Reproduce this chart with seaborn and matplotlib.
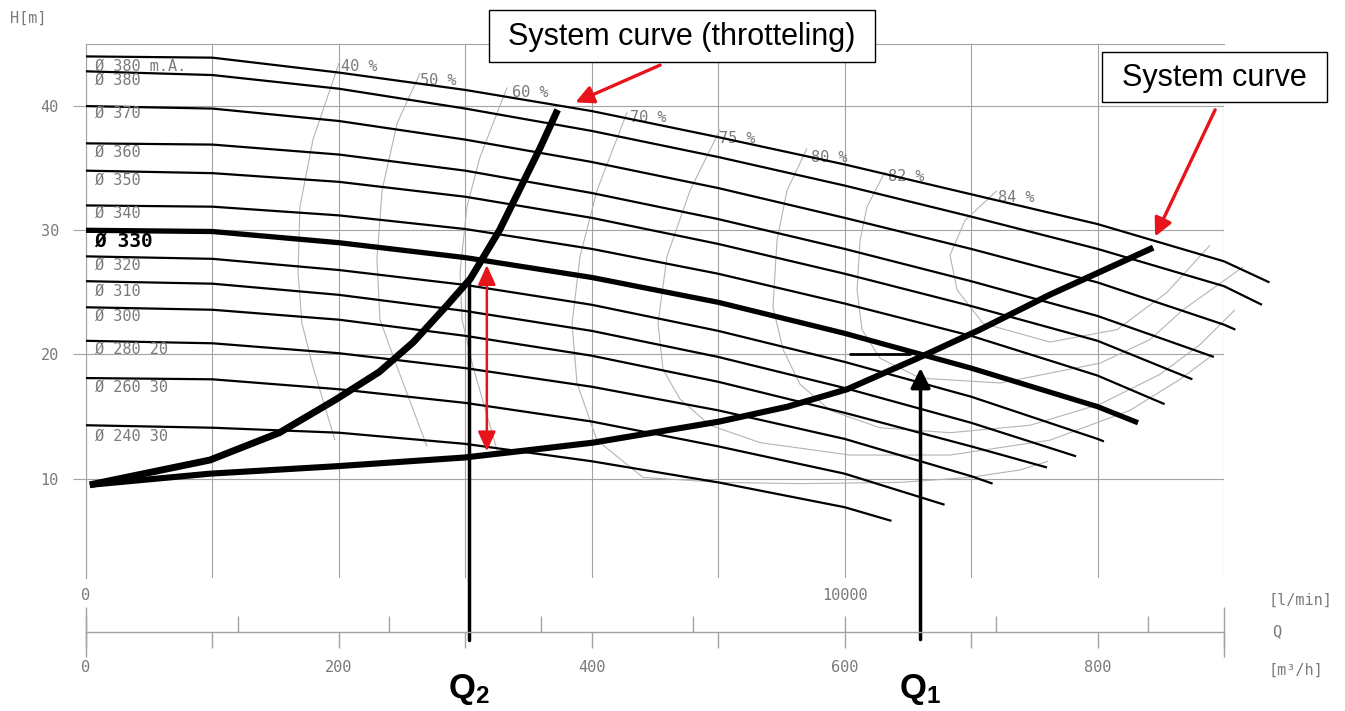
import numpy as np
import pandas as pd
import matplotlib
matplotlib.use("Agg")
import matplotlib.pyplot as plt
from matplotlib.patches import Rectangle
import seaborn as sns

# ---------------- data ----------------
# impeller curves: flow Q [m3/h], head H [m]
q_380ma = [0, 100, 200, 300, 400, 500, 600, 700, 800, 900, 936]
h_380ma = [44.0, 43.9, 42.7, 41.3, 39.6, 37.5, 35.3, 32.9, 30.5, 27.5, 25.8]
q_380 = [0, 100, 200, 300, 400, 500, 600, 700, 800, 900, 930]
h_380 = [42.8, 42.5, 41.4, 39.8, 38.0, 35.9, 33.6, 31.1, 28.5, 25.5, 24.0]
q_370 = [0, 100, 200, 300, 400, 500, 600, 700, 800, 900, 909]
h_370 = [40.0, 39.8, 38.8, 37.3, 35.5, 33.4, 31.0, 28.5, 25.8, 22.4, 22.0]
q_360 = [0, 100, 200, 300, 400, 500, 600, 700, 800, 892]
h_360 = [37.0, 36.9, 36.1, 34.8, 33.0, 30.9, 28.5, 25.9, 23.1, 19.8]
q_350 = [0, 100, 200, 300, 400, 500, 600, 700, 800, 875]
h_350 = [34.8, 34.6, 33.9, 32.7, 31.0, 28.9, 26.5, 23.9, 21.1, 18.0]
q_340 = [0, 100, 200, 300, 400, 500, 600, 700, 800, 853]
h_340 = [32.0, 31.9, 31.2, 30.1, 28.5, 26.5, 24.1, 21.5, 18.3, 16.0]
q_330 = [0, 100, 200, 300, 400, 500, 600, 700, 800, 832]
h_330 = [30.0, 29.9, 29.0, 27.8, 26.2, 24.2, 21.7, 18.9, 15.8, 14.5]
q_320 = [0, 100, 200, 300, 400, 500, 600, 700, 800, 805]
h_320 = [27.9, 27.7, 26.8, 25.6, 24.0, 21.9, 19.4, 16.6, 13.2, 13.0]
q_310 = [0, 100, 200, 300, 400, 500, 600, 700, 783]
h_310 = [25.9, 25.7, 24.8, 23.5, 21.9, 19.8, 17.3, 14.5, 11.8]
q_300 = [0, 100, 200, 300, 400, 500, 600, 700, 760]
h_300 = [23.8, 23.6, 22.8, 21.5, 19.9, 17.8, 15.3, 12.6, 10.9]
q_280 = [0, 100, 200, 300, 400, 500, 600, 700, 717]
h_280 = [21.1, 20.9, 20.1, 18.9, 17.4, 15.5, 13.2, 10.2, 9.6]
q_260 = [0, 100, 200, 300, 400, 500, 600, 679]
h_260 = [18.1, 18.0, 17.2, 16.1, 14.6, 12.6, 10.4, 7.9]
q_240 = [0, 100, 200, 300, 400, 500, 600, 637]
h_240 = [14.3, 14.1, 13.7, 12.8, 11.4, 9.7, 7.7, 6.6]

diameter_labels = ["Ø 380 m.A.", "Ø 380", "Ø 370", "Ø 360", "Ø 350", "Ø 340", "Ø 330",
                   "Ø 320", "Ø 310", "Ø 300", "Ø 280 20", "Ø 260 30", "Ø 240 30"]

# efficiency contours
eff_labels = ["40 %", "50 %", "60 %", "70 %", "75 %", "80 %", "82 %", "84 %"]
eff40_q = [200.9, 179.5, 169.2, 167.7, 170.8, 179.5, 196.9]
eff40_h = [43.7, 37.3, 31.9, 26.6, 22.5, 19.0, 13.1]
eff50_q = [264.2, 246.0, 234.1, 230.1, 232.5, 246.0, 269.7]
eff50_h = [42.65, 38.6, 33.2, 27.6, 22.8, 19.0, 12.6]
eff60_q = [333.0, 311.6, 301.3, 295.8, 297.4, 306.1, 325.1]
eff60_h = [41.5, 35.9, 31.9, 26.6, 22.8, 19.0, 12.3]
eff70_q = [427.9, 404.1, 390.7, 384.4, 388.3, 404.1, 440.5, 501.4, 564.7, 643.8, 699.1, 738.7, 760.8]
eff70_h = [39.5, 33.2, 27.9, 22.5, 17.7, 13.1, 10.1, 9.7, 9.6, 9.7, 10.1, 10.7, 11.4]
eff75_q = [501.4, 477.7, 459.5, 452.4, 456.3, 469.8, 493.5, 533.1, 604.2, 683.3, 762.4, 825.7, 865.2, 889.0]
eff75_h = [38.1, 33.2, 27.9, 22.5, 18.8, 16.4, 14.3, 12.9, 11.9, 11.9, 13.1, 15.5, 18.0, 19.8]
eff80_q = [570.2, 554.4, 546.5, 543.3, 551.3, 564.7, 588.4, 627.9, 683.3, 746.6, 802.0, 849.4, 881.1, 908.7]
eff80_h = [36.6, 33.2, 29.2, 23.8, 20.4, 17.6, 15.5, 14.1, 13.7, 14.3, 16.0, 18.4, 20.8, 23.6]
eff82_q = [631.9, 617.7, 612.2, 609.8, 613.7, 627.9, 659.6, 722.9, 802.0, 841.5, 867.6, 915.1]
eff82_h = [34.7, 31.9, 29.2, 25.2, 22.0, 19.7, 18.1, 17.7, 19.3, 21.2, 23.6, 27.05]
eff84_q = [720.5, 695.2, 683.3, 688.9, 709.4, 762.4, 815.4, 854.9, 889.0]
eff84_h = [33.2, 30.8, 28.0, 25.2, 22.5, 21.0, 22.0, 25.0, 28.8]

# system curves
thr_q = [3, 98, 153, 198, 232, 259, 285, 304, 327, 343, 359, 373]
thr_h = [9.5, 11.5, 13.7, 16.4, 18.6, 21.0, 23.9, 26.1, 30.0, 33.3, 36.6, 39.7]
sys_q = [3, 98, 198, 299, 359, 401, 501, 555, 602, 660, 707, 762, 844]
sys_h = [9.5, 10.4, 11.0, 11.7, 12.4, 12.9, 14.6, 15.8, 17.2, 19.8, 22.0, 24.8, 28.6]

# operating points
q1, h1 = 660, 19.9
q2, h2 = 303, 26.2
dh_q, dh_top, dh_bottom = 317, 27.2, 12.2

# axis ticks
h_ticks = [10, 20, 30, 40]
q_m3h_ticks = list(range(0, 901, 100))
q_m3h_labels = ["0", "", "200", "", "400", "", "600", "", "800", ""]
q_lmin_ticks = list(range(0, 14001, 2000))
q_lmin_labels = ["0", "", "", "", "", "10000", "", ""]

# ---------------- styling ----------------
sns.set_theme(style="white")
plt.rcParams["font.family"] = ["DejaVu Sans"]
plt.rcParams["mathtext.fontset"] = "custom"
plt.rcParams["mathtext.bf"] = "Liberation Sans:bold"
plt.rcParams["mathtext.rm"] = "Liberation Sans"

GRID = "#a3a3a3"
LABEL = "#7a7a7a"
EFF = "#b4b4b4"
RED = "#e8141b"
MONO = "DejaVu Sans Mono"

W, H = 1345, 711
fig = plt.figure(figsize=(W / 100, H / 100), dpi=100)
fig.patch.set_facecolor("white")
L, R = 86 / W, 1224 / W
B, T = (H - 578) / H, (H - 44) / H
ax = fig.add_axes([L, B, R - L, T - B])
ax.set_xlim(0, 900)
ax.set_ylim(2, 45)

# efficiency contours
eff_sets = [(eff40_q, eff40_h), (eff50_q, eff50_h), (eff60_q, eff60_h), (eff70_q, eff70_h),
            (eff75_q, eff75_h), (eff80_q, eff80_h), (eff82_q, eff82_h), (eff84_q, eff84_h)]
eff_rows = []
for lab, (qq, hh) in zip(eff_labels, eff_sets):
    for i, (a, b) in enumerate(zip(qq, hh)):
        eff_rows.append({"eff": lab, "i": i, "Q": a, "H": b})
eff_df = pd.DataFrame(eff_rows)
sns.lineplot(data=eff_df, x="Q", y="H", units="eff", estimator=None, sort=False,
             color=EFF, lw=0.8, ax=ax, legend=False, zorder=2)
eff_label_pos = [(202, 43.2), (264, 42.1), (337, 41.1), (430, 39.1),
                 (501, 37.4), (573, 35.9), (634, 34.3), (721, 32.6)]
for lab, (x, y) in zip(eff_labels, eff_label_pos):
    ax.text(x, y, lab, fontsize=11, color=LABEL, family=MONO, ha="left", va="center", zorder=3)

# impeller curves
curve_sets = [(q_380ma, h_380ma), (q_380, h_380), (q_370, h_370), (q_360, h_360),
              (q_350, h_350), (q_340, h_340), (q_330, h_330), (q_320, h_320),
              (q_310, h_310), (q_300, h_300), (q_280, h_280), (q_260, h_260), (q_240, h_240)]
rows = []
for lab, (qq, hh) in zip(diameter_labels, curve_sets):
    for i, (a, b) in enumerate(zip(qq, hh)):
        rows.append({"curve": lab, "i": i, "Q": a, "H": b})
df = pd.DataFrame(rows)
thin = df[df["curve"] != "Ø 330"]
bold = df[df["curve"] == "Ø 330"]
sns.lineplot(data=thin, x="Q", y="H", units="curve", estimator=None, sort=False,
             color="black", lw=1.6, ax=ax, legend=False, zorder=4)
sns.lineplot(data=bold, x="Q", y="H", estimator=None, sort=False,
             color="black", lw=3.8, ax=ax, legend=False, zorder=5)

label_h = [43.2, 42.1, 39.4, 36.3, 34.0, 31.4, 29.1, 27.2, 25.1, 23.1, 20.4, 17.4, 13.4]
for lab, y in zip(diameter_labels, label_h):
    if lab == "Ø 330":
        ax.text(6, y, lab, fontsize=14, color="black", family=MONO, weight="bold",
                ha="left", va="center", zorder=6)
    else:
        ax.text(7, y, lab, fontsize=11, color=LABEL, family=MONO, ha="left", va="center", zorder=6)

# system curves
sns.lineplot(x=thr_q, y=thr_h, sort=False, color="black", lw=5.0, ax=ax, zorder=7)
sns.lineplot(x=sys_q, y=sys_h, sort=False, color="black", lw=4.4, ax=ax, zorder=7)

for ln in ax.lines:
    ln.set_clip_on(False)
    ln.set_solid_capstyle("butt")

# axes cosmetics (after seaborn, which sets axis labels)
ax.set_xlim(0, 900)
ax.set_ylim(2, 45)
ax.set_xlabel("")
ax.set_ylabel("")
ax.set_xticks(q_m3h_ticks)
ax.set_yticks(h_ticks)
ax.set_yticklabels([str(v) for v in h_ticks])
ax.grid(True, color=GRID, lw=0.8)
ax.set_axisbelow(True)
ax.tick_params(axis="x", length=0, labelbottom=False, bottom=False)
ax.tick_params(axis="y", left=True, length=9.5, width=0.8, color=GRID, pad=10,
               labelsize=11, labelcolor=LABEL)
for lab in ax.get_yticklabels():
    lab.set_fontfamily(MONO)
ax.spines["bottom"].set_visible(False)
ax.spines["right"].set_visible(False)
for s in ["top", "left"]:
    ax.spines[s].set_color(GRID)
    ax.spines[s].set_linewidth(0.8)

# operating point markers
q_bottom = -2.96
ax.plot([q2, q2], [q_bottom, h2], color="black", lw=2.5, clip_on=False, zorder=8)
ax.annotate("", xy=(q1, h1 - 1.0), xytext=(q1, q_bottom),
            arrowprops=dict(arrowstyle="-|>,head_length=1.0,head_width=0.5", color="black",
                            lw=2.5, shrinkA=0, shrinkB=0), annotation_clip=False, zorder=8)
ax.plot([604, 652], [h1 + 0.1, h1 + 0.1], color="black", lw=2.0, clip_on=False, zorder=8)
ax.annotate("", xy=(dh_q, dh_top), xytext=(dh_q, dh_bottom),
            arrowprops=dict(arrowstyle="<|-|>,head_length=1.0,head_width=0.45", color=RED,
                            lw=1.8, shrinkA=0, shrinkB=0), annotation_clip=False, zorder=9)

# callouts
ax.add_patch(Rectangle((318.9, 43.54), 305.1, 4.18, fc="white", ec="black", lw=1.0,
                       clip_on=False, zorder=10))
ax.text(471, 45.6, "System curve (throtteling)", fontsize=22, family="Liberation Sans",
        color="black", ha="center", va="center", zorder=11, clip_on=False)
ax.add_patch(Rectangle((803.5, 40.32), 178.0, 4.02, fc="white", ec="black", lw=1.0,
                       clip_on=False, zorder=10))
ax.text(892.5, 42.3, "System curve", fontsize=22, family="Liberation Sans",
        color="black", ha="center", va="center", zorder=11, clip_on=False)
ax.annotate("", xy=(387, 40.3), xytext=(454, 43.3),
            arrowprops=dict(arrowstyle="-|>,head_length=0.9,head_width=0.45", color=RED,
                            lw=2.4, shrinkA=0, shrinkB=0), annotation_clip=False, zorder=9)
ax.annotate("", xy=(845.5, 29.5), xytext=(893, 39.7),
            arrowprops=dict(arrowstyle="-|>,head_length=0.9,head_width=0.45", color=RED,
                            lw=2.4, shrinkA=0, shrinkB=0), annotation_clip=False, zorder=9)

ax.text(q2, -7.0, r"$\mathbf{Q_2}$", fontsize=25, color="black", ha="center", va="center",
        clip_on=False)
ax.text(q1, -7.0, r"$\mathbf{Q_1}$", fontsize=25, color="black", ha="center", va="center",
        clip_on=False)

# flow axis (m3/h below, l/min above)
fax = fig.add_axes([L, (H - 632) / H, R - L, 0.0001])
fax.patch.set_visible(False)
fax.set_xlim(0, 900)
fax.set_ylim(0, 1)
fax.set_yticks([])
for s in ["top", "left", "right"]:
    fax.spines[s].set_visible(False)
fax.spines["bottom"].set_color(GRID)
fax.spines["bottom"].set_linewidth(1.0)
fax.set_xticks(q_m3h_ticks)
fax.set_xticklabels(q_m3h_labels)
fax.set_xticks([0, 900], minor=True)
fax.xaxis.remove_overlapping_locs = False
fax.tick_params(axis="x", which="major", bottom=True, direction="out", length=11.5,
                width=1.0, color=GRID, pad=9, labelsize=11, labelcolor=LABEL)
fax.tick_params(axis="x", which="minor", bottom=True, direction="out", length=18,
                width=1.0, color=GRID)
for lab in fax.get_xticklabels():
    lab.set_fontfamily(MONO)

sec = fax.secondary_xaxis("top", functions=(lambda q: np.asarray(q) * 50.0 / 3.0,
                                             lambda l: np.asarray(l) * 3.0 / 50.0))
sec.set_xticks(q_lmin_ticks)
sec.set_xticklabels(q_lmin_labels)
sec.set_xticks([0, 15000], minor=True)
sec.xaxis.remove_overlapping_locs = False
sec.tick_params(axis="x", which="major", top=True, direction="out", length=11.5, width=1.0,
                color=GRID, pad=9, labelsize=11, labelcolor=LABEL)
sec.tick_params(axis="x", which="minor", top=True, direction="out", length=18, width=1.0,
                color=GRID)
for lab in sec.get_xticklabels():
    lab.set_fontfamily(MONO)
for s in sec.spines.values():
    s.set_visible(False)

fig.text(1268 / W, (H - 600) / H, "[l/min]", fontsize=11, color=LABEL, family=MONO,
         ha="left", va="center")
fig.text(1272 / W, (H - 632) / H, "Q", fontsize=11, color=LABEL, family=MONO,
         ha="left", va="center")
fig.text(1268 / W, (H - 670) / H, "[m³/h]", fontsize=11, color=LABEL, family=MONO,
         ha="left", va="center")
fig.text(10 / W, (H - 18) / H, "H[m]", fontsize=11, color=LABEL, family=MONO,
         ha="left", va="center")

fig.savefig("out.png", dpi=100, facecolor="white")
